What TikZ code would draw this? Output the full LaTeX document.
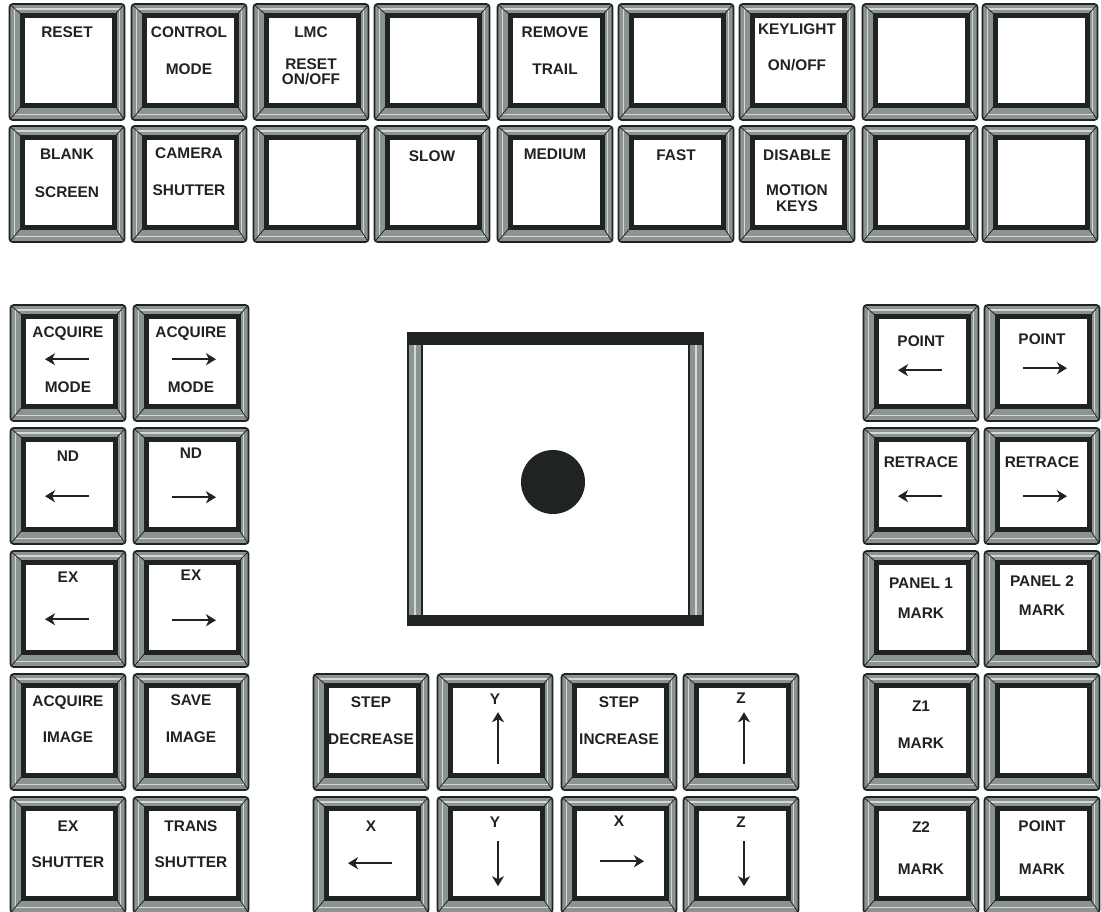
\documentclass[tikz,border=0pt]{standalone}
\usepackage{fontspec}
\setmainfont{Liberation Sans}
\usetikzlibrary{arrows.meta, calc}
\definecolor{keydark}{HTML}{1F2323}
\definecolor{bevel}{HTML}{8C9490}
\definecolor{bevellite}{HTML}{D3D8D4}

\begin{document}
\begin{tikzpicture}[x=0.5pt, y=-0.5pt,
  keycap/.style={draw=keydark, line width=0.8pt, fill=bevel,
    rounded corners=1.5pt, minimum width=57.5pt, minimum height=58pt,
    inner sep=0pt,
    path picture={
      \draw[bevellite, line width=0.7pt, sharp corners]
        ([shift={(2.6pt,-2.4pt)}]path picture bounding box.north west) rectangle
        ([shift={(-2.4pt,2.8pt)}]path picture bounding box.south east);
      \draw[keydark, line width=0.4pt, sharp corners]
        (path picture bounding box.north west) -- ++(6.25pt,-5.5pt)
        (path picture bounding box.north east) -- ++(-5pt,-5.5pt)
        (path picture bounding box.south west) -- ++(6.25pt,7.5pt)
        (path picture bounding box.south east) -- ++(-5pt,7.5pt);
      \draw[keydark, line width=2.5pt, fill=white, sharp corners]
        ([shift={(6.25pt,-5.5pt)}]path picture bounding box.north west) rectangle
        ([shift={(-5pt,7.5pt)}]path picture bounding box.south east);
    }},
  keytext/.style={font=\bfseries\fontsize{7.7}{9}\selectfont, text=keydark,
    inner sep=0pt, text height=5.3pt, text depth=0pt},
  keyarrow/.style={keydark, line width=1.1pt,
    -{Stealth[length=5pt, width=6pt, inset=1.5pt]}},
  padframe/.style={draw=keydark, line width=0.8pt, fill=white,
    minimum width=147.5pt, minimum height=146pt, inner sep=0pt,
    path picture={
      \fill[bevel] (path picture bounding box.north west) rectangle
        ([xshift=7pt]path picture bounding box.south west);
      \fill[bevel] (path picture bounding box.north east) rectangle
        ([xshift=-7pt]path picture bounding box.south east);
      \draw[bevellite, line width=0.8pt]
        ([xshift=3.5pt]path picture bounding box.north west) --
        ([xshift=3.5pt]path picture bounding box.south west)
        ([xshift=-3.5pt]path picture bounding box.north east) --
        ([xshift=-3.5pt]path picture bounding box.south east);
      \draw[keydark, line width=0.8pt]
        ([xshift=7pt]path picture bounding box.north west) --
        ([xshift=7pt]path picture bounding box.south west)
        ([xshift=-7pt]path picture bounding box.north east) --
        ([xshift=-7pt]path picture bounding box.south east);
      \fill[keydark] (path picture bounding box.north west) rectangle
        ([yshift=-6pt]path picture bounding box.north east);
      \fill[keydark] (path picture bounding box.south west) rectangle
        ([yshift=5pt]path picture bounding box.south east);
    }},
  knob/.style={circle, fill=keydark, minimum size=32pt, inner sep=0pt}
]
  \useasboundingbox[fill=white] (0,0) rectangle (1101,911);

  % Function rows
  \foreach \k/\x/\y in {reset/67/62, ctrlmode/189/62, lmcreset/311/62,
      blankA/432/62, remtrail/555/62, blankB/676/62, keylight/797/62,
      blankC/920/62, blankD/1040/62,
      blankscr/67/184, camshut/189/184, blankE/311/184, slow/432/184,
      medium/555/184, fast/676/184, dismotion/797/184, blankF/920/184,
      blankG/1040/184}
    \node[keycap] (\k) at (\x,\y) {};

  % Left block
  \foreach \k/\x/\y in {acqmodeL/68/363, acqmodeR/191/363, ndL/68/486,
      ndR/191/486, exL/68/609, exR/191/609, acqimg/68/732, saveimg/191/732,
      exshut/68/855, transshut/191/855}
    \node[keycap] (\k) at (\x,\y) {};

  % Motion keys
  \foreach \k/\x/\y in {stepdec/371/732, yup/495/732, stepinc/619/732,
      zup/741/732, xleft/371/855, ydown/495/855, xright/619/855,
      zdown/741/855}
    \node[keycap] (\k) at (\x,\y) {};

  % Right block
  \foreach \k/\x/\y in {pointL/921/363, pointR/1042/363, retraceL/921/486,
      retraceR/1042/486, panelone/921/609, paneltwo/1042/609,
      zonemark/921/732, blankH/1042/732, ztwomark/921/855,
      pointmark/1042/855}
    \node[keycap] (\k) at (\x,\y) {};

  % Trackball
  \node[padframe] (pad) at (555.5,479) {};
  \node[knob] (ball) at (553,482) {};

  % Key captions
  \foreach \k/\dy/\txt in {reset/29/RESET,
      ctrlmode/29/CONTROL, ctrlmode/66/MODE,
      lmcreset/29/LMC, lmcreset/61/RESET, lmcreset/76/{ON/OFF},
      remtrail/29/REMOVE, remtrail/66/TRAIL,
      keylight/26/KEYLIGHT, keylight/62/{ON/OFF},
      blankscr/29/BLANK, blankscr/67/SCREEN,
      camshut/28/CAMERA, camshut/65/SHUTTER,
      slow/31/SLOW, medium/29/MEDIUM, fast/30/FAST,
      dismotion/30/DISABLE, dismotion/65/MOTION, dismotion/81/KEYS,
      acqmodeL/28/ACQUIRE, acqmodeL/83/MODE,
      acqmodeR/28/ACQUIRE, acqmodeR/83/MODE,
      ndL/29/ND, ndR/26/ND, exL/27/EX, exR/25/EX,
      acqimg/28/ACQUIRE, acqimg/64/IMAGE, saveimg/27/SAVE, saveimg/64/IMAGE,
      exshut/30/EX, exshut/66/SHUTTER, transshut/30/TRANS, transshut/66/SHUTTER,
      stepdec/29/STEP, stepdec/66/DECREASE, yup/26/Y,
      stepinc/29/STEP, stepinc/66/INCREASE, zup/25/Z,
      xleft/30/X, ydown/26/Y, xright/25/X, zdown/26/Z,
      pointL/37/POINT, pointR/35/POINT, retraceL/35/RETRACE, retraceR/35/RETRACE,
      panelone/33/PANEL 1, panelone/63/MARK, paneltwo/31/PANEL 2, paneltwo/60/MARK,
      zonemark/33/Z1, zonemark/70/MARK, ztwomark/31/Z2, ztwomark/73/MARK,
      pointmark/30/POINT, pointmark/73/MARK}
    \node[keytext] (\k-\dy) at ($(\k.north)+(0,\dy)$) {\txt};

  % Arrows
  \foreach \k/\dy in {acqmodeL/55, ndL/69, exL/69, pointL/66, retraceL/69, xleft/67}
    \draw[keyarrow] ($(\k.north)+(21,\dy)$) -- ($(\k.north)+(-23,\dy)$);
  \foreach \k/\dy in {acqmodeR/55, ndR/70, exR/70, pointR/64, retraceR/69, xright/65}
    \draw[keyarrow] ($(\k.north)+(-19,\dy)$) -- ($(\k.north)+(25,\dy)$);
  \foreach \k in {yup, zup}
    \draw[keyarrow] ($(\k.north)+(3,91)$) -- ($(\k.north)+(3,39)$);
  \foreach \k in {ydown, zdown}
    \draw[keyarrow] ($(\k.north)+(3,45)$) -- ($(\k.north)+(3,90)$);
\end{tikzpicture}
\end{document}
